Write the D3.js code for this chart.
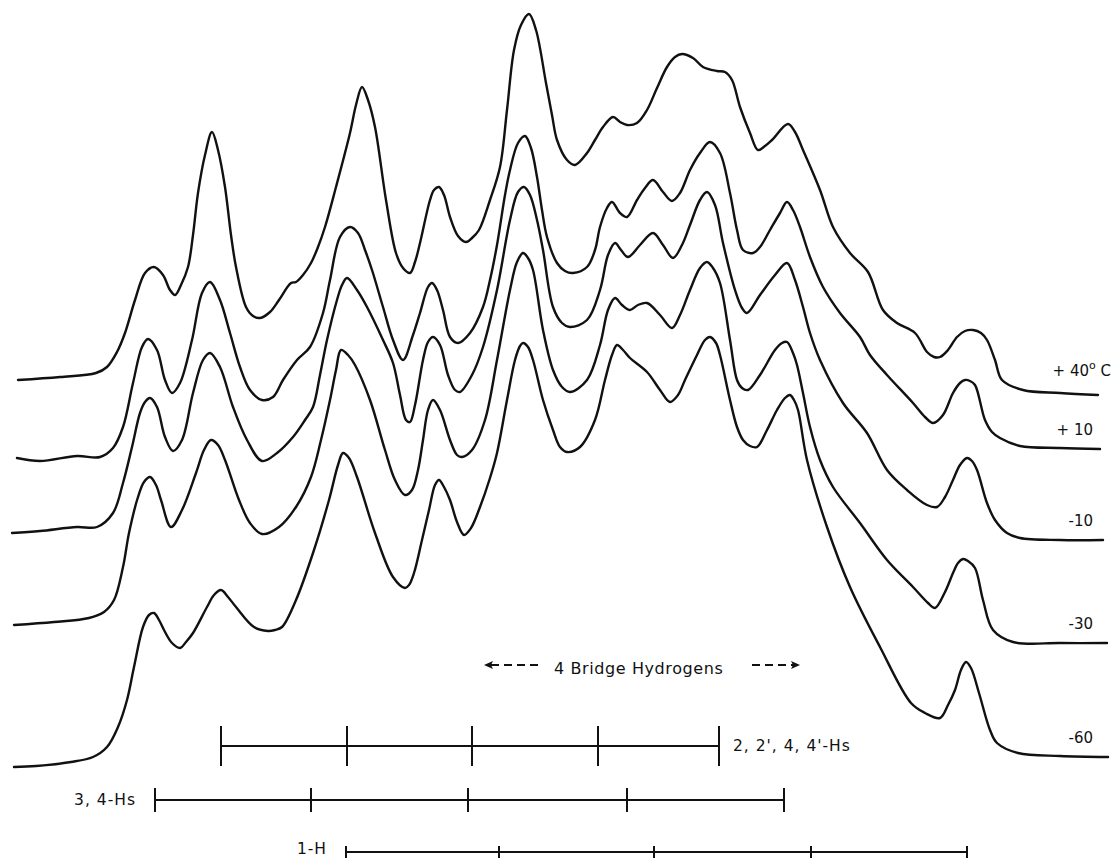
<!DOCTYPE html>
<html>
<head>
<meta charset="utf-8">
<script src="https://cdn.jsdelivr.net/npm/d3@7"></script>
<style>
  html, body { margin: 0; padding: 0; background: #fff; }
  text { font-family: "DejaVu Sans", sans-serif; fill: #111; }
</style>
</head>
<body>
<div id="chart"></div>
<script>
// recorder traces: [sweep position, pen deflection from top]
const trace40 = [
  [18,380],[60,377],[96,373],[107,367],[117,352],[125,333],[135,300],[145,273],[154,267],[163,275],
  [170,290],[175,295],[181,285],[188,267],[193,235],[198,193],[205,155],[212,132],[218,150],[225,187],
  [231,235],[236,267],[246,307],[253,316],[260,318],[270,312],[279,300],[291,283],[296,282],[303,275],
  [311,263],[318,247],[325,227],[336,187],[350,133],[356,105],[362,87],[368,100],[375,127],[386,200],
  [396,253],[403,268],[410,273],[415,262],[420,243],[430,200],[434,190],[439,187],[444,195],[450,217],
  [458,236],[466,242],[472,238],[479,230],[490,200],[500,167],[507,110],[514,50],[521,25],[529,14],
  [536,30],[546,83],[552,115],[557,140],[567,160],[575,165],[587,153],[595,140],[603,127],[613,117],
  [620,122],[627,125],[637,123],[647,110],[657,88],[667,67],[675,57],[682,54],[693,58],[703,67],
  [717,71],[725,72],[732,80],[740,107],[750,133],[758,150],[765,146],[772,140],[788,124],[795,132],
  [803,150],[820,190],[833,227],[850,253],[868,272],[883,310],[897,323],[915,333],[927,352],[934,357],
  [940,357],[948,350],[957,337],[965,331],[973,330],[981,333],[987,340],[995,360],[1002,380],[1023,390],
  [1060,393],[1098,395]
];

const trace10 = [
  [17,458],[40,461],[77,456],[100,457],[113,448],[123,427],[133,383],[142,347],[148,339],[157,350],
  [165,380],[172,393],[180,383],[192,340],[202,293],[210,282],[220,300],[230,333],[240,367],[250,390],
  [262,400],[273,397],[283,380],[297,360],[310,347],[323,313],[330,280],[340,237],[350,227],[358,233],
  [365,250],[372,270],[383,307],[393,340],[403,360],[413,335],[420,313],[428,287],[432,283],[437,290],
  [443,310],[450,337],[458,343],[470,333],[483,307],[490,280],[497,245],[505,195],[510,170],[518,143],
  [525,136],[531,148],[537,177],[542,210],[547,237],[557,263],[565,271],[573,273],[587,267],[595,250],
  [600,227],[607,208],[612,202],[620,213],[627,217],[637,200],[645,188],[653,180],[663,192],[672,201],
  [680,193],[690,170],[700,153],[710,142],[720,153],[730,193],[737,230],[743,250],[753,253],[760,247],
  [770,230],[780,213],[787,202],[793,210],[800,227],[810,257],[823,287],[840,313],[860,337],[870,355],
  [887,375],[913,403],[925,417],[933,423],[943,415],[953,393],[960,383],[965,380],[970,381],[975,385],
  [985,420],[992,432],[1000,438],[1020,446],[1060,448],[1100,449]
];

const traceM10 = [
  [12,533],[40,531],[77,527],[97,527],[113,513],[123,483],[132,447],[140,413],[145,402],[150,398],
  [157,407],[165,437],[173,451],[182,440],[193,393],[203,360],[210,353],[220,367],[233,407],[247,440],
  [262,461],[277,453],[293,437],[305,420],[313,407],[320,375],[327,340],[337,300],[342,285],[347,278],
  [357,290],[367,307],[383,340],[393,363],[400,395],[406,420],[410,422],[415,405],[423,360],[428,342],
  [433,337],[440,345],[448,375],[455,390],[460,392],[472,375],[483,347],[497,290],[510,220],[518,192],
  [524,187],[530,195],[537,220],[543,250],[553,307],[562,323],[570,327],[587,320],[600,290],[608,255],
  [615,243],[621,250],[628,257],[640,245],[653,233],[663,245],[673,258],[682,245],[690,225],[700,200],
  [707,192],[715,205],[723,243],[735,290],[742,308],[747,313],[760,295],[775,275],[787,263],[795,280],
  [803,307],[810,333],[820,360],[843,403],[867,433],[887,470],[907,490],[927,505],[937,507],[945,497],
  [953,480],[960,465],[967,458],[972,461],[977,470],[987,503],[995,520],[1007,533],[1020,538],[1060,540],
  [1103,540]
];

const traceM30 = [
  [14,625],[54,622],[89,618],[104,612],[114,600],[123,567],[129,533],[138,497],[144,482],[150,477],
  [156,485],[161,500],[171,527],[182,510],[196,473],[204,450],[211,440],[218,445],[225,460],[239,500],
  [250,523],[262,534],[279,527],[296,507],[311,477],[321,440],[330,400],[336,370],[341,350],[348,355],
  [355,365],[370,400],[385,450],[395,480],[405,495],[412,490],[418,470],[423,440],[428,410],[433,400],
  [440,410],[450,440],[457,455],[462,457],[472,450],[485,420],[497,360],[510,290],[517,262],[523,253],
  [528,258],[533,270],[543,330],[553,370],[562,387],[570,392],[587,380],[600,345],[608,310],[615,298],
  [622,305],[630,310],[638,305],[647,303],[660,315],[672,328],[680,315],[690,290],[700,268],[707,262],
  [713,268],[720,283],[730,340],[737,380],[742,388],[748,390],[760,375],[775,350],[782,343],[787,342],
  [793,353],[797,365],[803,393],[810,427],[820,460],[833,487],[860,523],[887,560],[913,587],[928,603],
  [935,608],[945,592],[953,573],[958,563],[963,559],[968,561],[975,568],[983,600],[993,630],[1013,642],
  [1060,643],[1107,643]
];

const traceM60 = [
  [14,767],[36,766],[71,762],[93,757],[107,747],[118,727],[127,700],[134,667],[143,627],[149,615],
  [154,613],[159,620],[164,630],[172,643],[180,648],[186,642],[193,633],[207,607],[214,595],[221,590],
  [228,597],[236,607],[254,627],[268,631],[275,630],[282,627],[296,600],[314,550],[329,500],[338,465],
  [343,453],[349,458],[357,477],[375,533],[393,577],[405,588],[409,585],[414,573],[422,540],[429,510],
  [435,485],[439,480],[444,487],[450,500],[457,522],[464,535],[471,528],[480,507],[490,478],[497,453],
  [507,400],[515,360],[520,346],[523,343],[528,347],[533,360],[543,400],[553,430],[560,447],[567,452],
  [580,447],[595,420],[605,380],[612,355],[617,345],[623,350],[630,358],[647,372],[660,390],[670,402],
  [678,395],[685,380],[697,355],[705,340],[710,337],[716,343],[720,355],[730,400],[737,427],[743,440],
  [750,446],[757,447],[767,430],[777,410],[785,398],[790,395],[794,400],[798,410],[807,460],[827,527],
  [850,587],[880,647],[911,703],[925,713],[940,718],[948,705],[955,690],[961,670],[966,662],[971,668],
  [979,693],[990,730],[997,743],[1018,753],[1060,756],[1108,757]
];

const temperatures = ["+ 40", "+ 10", "-10", "-30", "-60"];
const traces = [trace40, trace10, traceM10, traceM30, traceM60];

// multiplet stick patterns (sweep positions)
const multipletLabels = ["2, 2', 4, 4'-Hs", "3, 4-Hs", "1-H"];
const ticks2244 = [221, 347, 472, 598, 719];
const ticks34 = [155, 311, 468, 627, 784];
const ticks1 = [346, 499, 654, 811, 967];

const bridgeLabel = "4 Bridge Hydrogens";
const bridgeRange = [484, 800];

const width = 1114, height = 859;

const x = d3.scaleLinear().domain([0, 1114]).range([0, width]);
const y = d3.scaleLinear().domain([0, 859]).range([0, height]);

const svg = d3.select('#chart')
  .append('svg')
  .attr('width', width)
  .attr('height', height)
  .style('background', '#fff');

const line = d3.line()
  .x(d => x(d[0]))
  .y(d => y(d[1]))
  .curve(d3.curveCatmullRom.alpha(0.5));

svg.selectAll('path.trace')
  .data(traces)
  .enter().append('path')
    .attr('class', 'trace')
    .attr('d', line)
    .attr('fill', 'none')
    .attr('stroke', '#111')
    .attr('stroke-width', 2.4)
    .attr('stroke-linejoin', 'round')
    .attr('stroke-linecap', 'round');

// temperature labels sit just above the right-hand end of each trace
const temp = svg.selectAll('text.temp')
  .data(traces)
  .enter().append('text')
    .attr('class', 'temp')
    .attr('x', (d, i) => i === 0 ? x(1111) : x(1093))
    .attr('y', (d, i) => y(d[d.length - 1][1]) - (i === 0 ? 19 : 14))
    .attr('text-anchor', 'end')
    .style('font-size', '15px');

temp.append('tspan').text((d, i) => temperatures[i]);
temp.filter((d, i) => i === 0).append('tspan')
  .attr('dy', -7).style('font-size', '11px').text('o');
temp.filter((d, i) => i === 0).append('tspan')
  .attr('dy', 7).text(' C');

// multiplet bars
const rows = [
  {ticks: ticks2244, y: 746, half: 20, label: multipletLabels[0], side: 'right', ty: 746},
  {ticks: ticks34, y: 800, half: 12, label: multipletLabels[1], side: 'left', ty: 800},
  {ticks: ticks1, y: 852, half: 6, label: multipletLabels[2], side: 'left', ty: 849}
];

rows.forEach(r => {
  const g = svg.append('g');
  g.append('line')
    .attr('x1', x(d3.min(r.ticks))).attr('x2', x(d3.max(r.ticks)))
    .attr('y1', r.y).attr('y2', r.y)
    .attr('stroke', '#111').attr('stroke-width', 2);
  g.selectAll('line.tick')
    .data(r.ticks)
    .enter().append('line')
      .attr('class', 'tick')
      .attr('x1', d => x(d)).attr('x2', d => x(d))
      .attr('y1', r.y - r.half).attr('y2', r.y + r.half)
      .attr('stroke', '#111').attr('stroke-width', 2);
  g.append('text')
    .attr('x', r.side === 'right' ? x(d3.max(r.ticks)) + 14 : x(d3.min(r.ticks)) - 19)
    .attr('y', r.ty)
    .attr('dy', '.35em')
    .attr('text-anchor', r.side === 'right' ? 'start' : 'end')
    .style('font-size', '15.5px')
    .style('letter-spacing', '1px')
    .text(r.label);
});

// bridge hydrogens arrow
const by = 665;
const ba = svg.append('g');
ba.append('line')
  .attr('x1', x(bridgeRange[0]) + 7).attr('x2', x(bridgeRange[0]) + 56)
  .attr('y1', by).attr('y2', by)
  .attr('stroke', '#111').attr('stroke-width', 2).attr('stroke-dasharray', '8,5');
ba.append('path')
  .attr('d', `M${x(bridgeRange[0])},${by} l9,-4 l-2,4 l2,4 z`)
  .attr('fill', '#111');
ba.append('line')
  .attr('x1', x(bridgeRange[1]) - 48).attr('x2', x(bridgeRange[1]) - 6)
  .attr('y1', by).attr('y2', by)
  .attr('stroke', '#111').attr('stroke-width', 2).attr('stroke-dasharray', '8,5');
ba.append('path')
  .attr('d', `M${x(bridgeRange[1])},${by} l-9,-4 l2,4 l-2,4 z`)
  .attr('fill', '#111');
ba.append('text')
  .attr('x', x(554))
  .attr('y', by + 3)
  .attr('dy', '.35em')
  .style('font-size', '16px')
  .style('letter-spacing', '0.6px')
  .text(bridgeLabel);
</script>
</body>
</html>
